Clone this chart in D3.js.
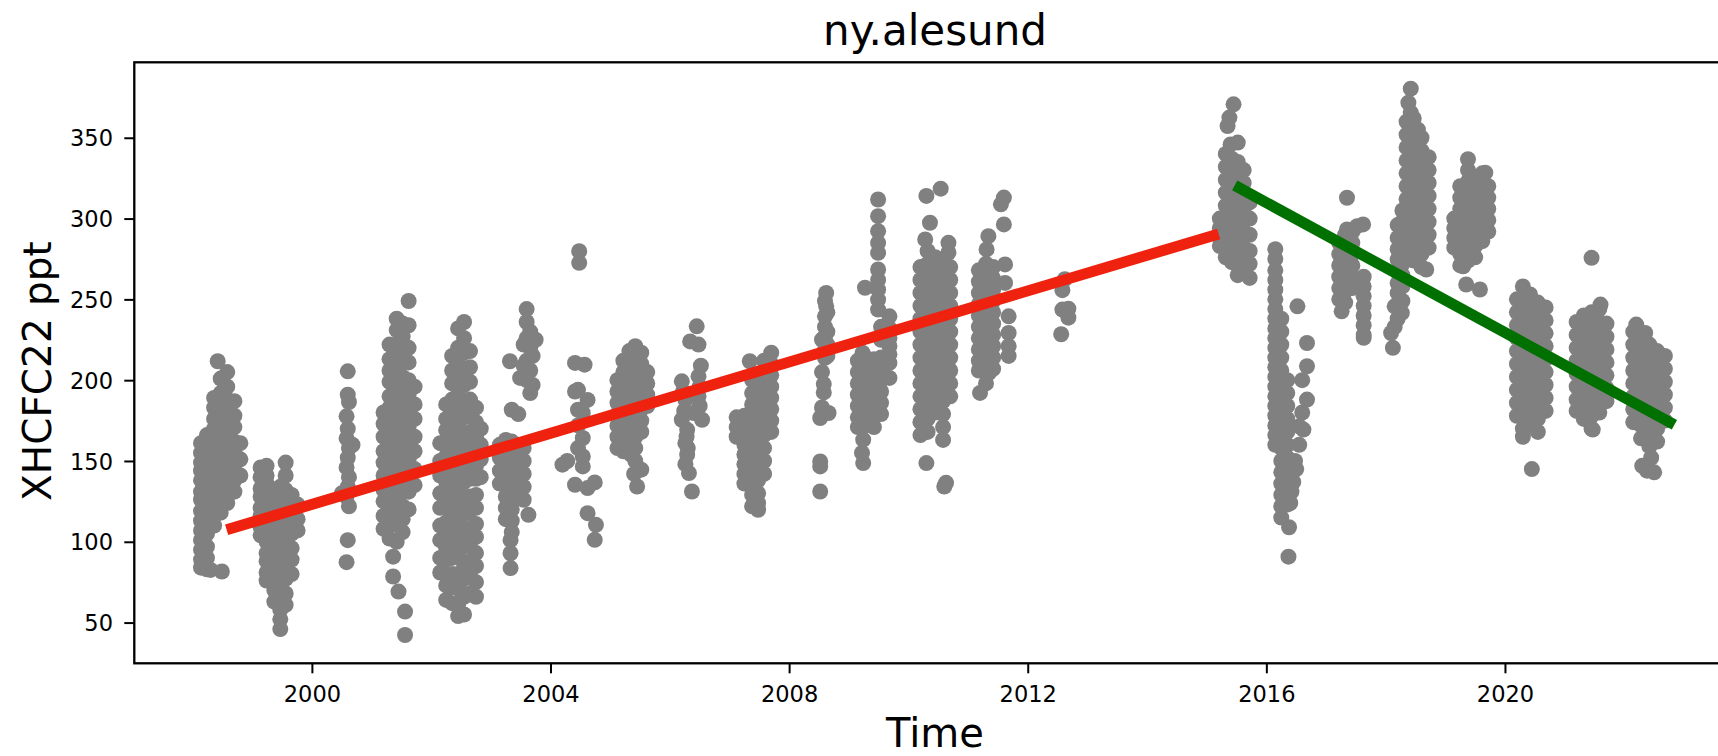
<!DOCTYPE html>
<html><head><meta charset="utf-8">
<script src="https://cdn.jsdelivr.net/npm/d3@7"></script>
<style>body{margin:0;background:#fff;} svg{display:block;font-family:"DejaVu Sans",sans-serif;}</style>
</head><body><svg id="chart" width="1718" height="756"></svg>
<script>
const chartTitle = "ny.alesund";
const xLabel = "Time";
const yLabel = "XHCFC22 ppt";
const xTickYears = [2000, 2004, 2008, 2012, 2016, 2020];
const yTickValues = [50, 100, 150, 200, 250, 300, 350];
const xDomainYears = [1997.021, 2023.868];
const yDomain = [24.8, 396.7];

// observation columns: [decimal year, [readings in ppt]]
const obsColumns = [
  [1998.14, [161, 155, 149, 144, 138, 131, 126, 119, 113, 107, 101, 95, 89, 84]],
  [1998.24, [166, 158, 151, 143, 136, 128, 121, 113, 105, 97, 90, 83]],
  [1998.36, [189, 183, 176, 170, 163, 158, 151, 146, 139, 134, 128, 121, 116, 110]],
  [1998.47, [201, 192, 186, 180, 173, 168, 161, 156, 150, 143, 138, 131, 126, 118]],
  [1998.58, [205, 196, 188, 181, 172, 165, 156, 149, 141, 133, 124]],
  [1998.70, [187, 178, 171, 162, 155, 147, 138, 131]],
  [1998.80, [161, 151, 141]],
  [1998.42, [211.7]],
  [1998.30, [82.6]],
  [1998.49, [81.6]],
  [1999.14, [146, 140, 133, 128, 121, 116, 109, 104]],
  [1999.24, [147, 141, 136, 129, 124, 117, 112, 105, 100, 93, 88, 81, 76]],
  [1999.37, [131, 123, 118, 111, 106, 99, 94, 87, 82, 75, 70, 63]],
  [1999.47, [134, 127, 120, 112, 105, 97, 89, 81, 73, 65, 58, 52, 46]],
  [1999.56, [149, 141, 132, 124, 117, 108, 100, 93, 84, 77, 68, 61]],
  [1999.66, [129, 121, 112, 105, 96, 89, 80]],
  [1999.76, [123, 114, 107]],
  [2000.60, [205.5, 191, 170, 152, 134, 101]],
  [2000.62, [186.5, 158, 140, 122]],
  [2000.58, [177.6, 164, 146, 128, 87.4]],
  [2000.68, [160]],
  [2000.50, [130]],
  [2001.20, [180, 173, 165, 156, 149, 141, 132, 125, 116, 108]],
  [2001.30, [222, 213, 206, 199, 190, 183, 174, 167, 158, 151, 142, 135, 126, 119, 110, 102]],
  [2001.42, [238, 231, 222, 215, 206, 199, 190, 183, 174, 167, 158, 150, 143, 134, 127, 118, 111, 100]],
  [2001.52, [235, 227, 218, 211, 202, 195, 186, 179, 170, 163, 154, 147, 138, 131, 122, 114, 106]],
  [2001.62, [249, 234, 220, 211, 200, 191, 180, 171, 160, 151, 140, 131, 120]],
  [2001.72, [196, 185, 176, 165, 156, 145, 135]],
  [2001.36, [90.8, 78.5]],
  [2001.45, [69.2]],
  [2001.56, [56.8, 42.3]],
  [2002.15, [161, 150, 141, 130, 121, 110, 101, 90, 81]],
  [2002.25, [185, 176, 169, 160, 153, 144, 137, 128, 121, 112, 105, 96, 89, 80, 73, 64]],
  [2002.35, [215, 206, 198, 188, 180, 170, 162, 152, 144, 134, 126, 116, 108, 98, 90, 80, 72, 62]],
  [2002.45, [232, 220, 211, 200, 191, 180, 171, 160, 151, 140, 131, 120, 111, 100, 91, 80, 71, 61, 54]],
  [2002.55, [236, 226, 217, 206, 197, 186, 177, 166, 157, 146, 137, 126, 117, 106, 97, 86, 77, 66, 55]],
  [2002.65, [218, 208, 199, 188, 179, 168, 159, 148, 139, 128, 119, 108, 99, 88, 79, 68]],
  [2002.75, [183, 174, 165, 157, 147, 139, 129, 121, 111, 103, 93, 85, 75, 66]],
  [2002.83, [170, 160, 151, 140]],
  [2003.60, [244, 236, 226, 212, 200]],
  [2003.66, [230, 220, 206, 192]],
  [2003.70, [215, 197]],
  [2003.55, [222, 209]],
  [2003.75, [225]],
  [2003.32, [211.7]],
  [2003.49, [201.4]],
  [2003.35, [181.7]],
  [2003.46, [179]],
  [2003.15, [160, 152, 144, 136]],
  [2003.25, [163, 156, 149, 142, 135, 128, 121, 114]],
  [2003.35, [162, 155, 148, 141, 134, 127, 120, 113, 106]],
  [2003.45, [160, 153, 146, 139, 132]],
  [2003.55, [158, 150, 142, 134, 126]],
  [2003.63, [116.7]],
  [2003.33, [101, 92.9, 83.7]],
  [2004.48, [279.8, 272.6]],
  [2004.41, [210.7, 193, 135.3]],
  [2004.57, [209.6]],
  [2004.46, [194, 181.7, 172, 158]],
  [2004.62, [187.8, 133.2, 117.7]],
  [2004.54, [179.7, 164.2, 152.8, 146.6]],
  [2004.20, [147.7]],
  [2004.28, [150]],
  [2004.74, [136.7, 101.2]],
  [2004.76, [110.5]],
  [2005.12, [200, 193, 186, 179, 172, 165, 158]],
  [2005.22, [212, 205, 198, 191, 184, 177, 170, 163, 156]],
  [2005.32, [218, 211, 204, 197, 190, 183, 176, 169, 162, 155]],
  [2005.42, [221, 214, 207, 200, 193, 186, 179, 172, 165, 158, 150]],
  [2005.52, [217, 210, 203, 196, 189, 182, 175, 168, 144.6]],
  [2005.62, [205, 198, 191, 184]],
  [2005.35, [153.9]],
  [2005.40, [142]],
  [2005.45, [134.2]],
  [2006.45, [233.3]],
  [2006.34, [224]],
  [2006.48, [222, 202.4, 190]],
  [2006.20, [199.3, 175.5]],
  [2006.22, [193]],
  [2006.24, [181]],
  [2006.26, [187.9, 161, 148]],
  [2006.40, [179.7]],
  [2006.54, [175.5]],
  [2006.29, [169.3, 153.9]],
  [2006.28, [165]],
  [2006.30, [158]],
  [2006.32, [142.5]],
  [2006.37, [131.1]],
  [2006.50, [196, 184]],
  [2006.52, [209]],
  [2007.12, [177, 171, 165]],
  [2007.25, [178, 172, 166, 160, 154, 148, 142, 136]],
  [2007.38, [200, 192, 185, 178, 171, 164, 157, 150, 143, 136, 129, 122]],
  [2007.48, [194, 186, 178, 170, 162, 154, 146, 138, 130, 124, 119.8]],
  [2007.58, [212, 205, 198, 190, 182, 174, 166, 158, 150, 142]],
  [2007.70, [217, 210, 203, 196, 189, 182, 175, 168]],
  [2007.34, [211.7]],
  [2008.62, [254, 245.7]],
  [2008.60, [249, 239.5, 233, 227, 219, 213.8]],
  [2008.64, [242, 230, 222, 215]],
  [2008.55, [225.1, 205, 183.1]],
  [2008.58, [197.6, 192.4]],
  [2008.66, [179.7]],
  [2008.52, [176.6, 149.7, 146.6, 131.1]],
  [2009.49, [311.8, 301.5, 292.2, 285, 278.8, 268.5, 262, 256, 249.9, 243.7]],
  [2009.27, [257.2]],
  [2009.68, [239.5, 232, 226, 221, 216, 210.7, 201.4]],
  [2009.23, [216.9, 208.6]],
  [2009.15, [212, 205, 198, 191, 184, 177, 171]],
  [2009.28, [214, 207, 200, 193, 186, 179, 172]],
  [2009.42, [213, 206, 199, 192, 185, 178, 171]],
  [2009.54, [233, 225, 214, 207, 200, 193, 186, 179]],
  [2009.24, [163.2, 148.7]],
  [2009.22, [155]],
  [2010.54, [318.5]],
  [2010.30, [314, 148.7]],
  [2010.36, [297.4]],
  [2010.28, [287.1]],
  [2010.67, [285, 279]],
  [2010.20, [270, 262, 254, 246, 238, 230, 222, 214, 206, 198, 190, 182, 174, 166]],
  [2010.32, [280, 272, 264, 256, 248, 240, 232, 224, 216, 208, 200, 192, 184, 176, 168]],
  [2010.45, [276, 268, 260, 252, 244, 236, 228, 220, 212, 204, 196, 188, 180]],
  [2010.58, [275, 267, 259, 251, 243, 235, 227, 219, 211, 203, 195, 187, 179, 171, 163]],
  [2010.70, [270, 262, 254, 246, 238, 230, 222, 214, 206, 198, 190]],
  [2010.60, [134.2]],
  [2010.63, [136.5]],
  [2011.60, [313, 296.4]],
  [2011.55, [308.8]],
  [2011.34, [289.1]],
  [2011.31, [280.9]],
  [2011.62, [271.6, 260.2]],
  [2011.18, [268, 261, 254, 247, 240, 233, 226, 219, 212, 206]],
  [2011.30, [272, 265, 258, 251, 244, 237, 230, 223, 216, 209, 198]],
  [2011.42, [270, 263, 256, 249, 242, 235, 228, 221, 214, 207]],
  [2011.68, [239.5, 229.2, 221, 215]],
  [2011.20, [192.1]],
  [2011.35, [204.5]],
  [2012.62, [262.5]],
  [2012.58, [255.7, 243.7]],
  [2012.68, [244.2, 238.7]],
  [2012.56, [228.4]],
  [2015.45, [370.7]],
  [2015.38, [362.5]],
  [2015.35, [357.3]],
  [2015.52, [347]],
  [2015.40, [345.9]],
  [2015.22, [300, 294, 288, 283]],
  [2015.32, [340, 332, 324, 316, 308, 300, 292, 284, 276]],
  [2015.42, [337, 329, 321, 313, 305, 297, 289, 281, 273]],
  [2015.52, [335, 327, 319, 311, 303, 295, 287, 279, 271, 265]],
  [2015.62, [330, 322, 314, 306, 298, 290, 282, 274, 268]],
  [2015.72, [310, 300, 290, 280, 272, 263.3]],
  [2016.15, [281, 275, 268, 262, 256, 250, 244, 238, 232, 226, 220, 214, 208, 202, 196, 190, 184, 178, 172, 166, 160]],
  [2016.25, [238, 230, 222, 214, 206, 198, 190, 182, 174, 166, 158, 150, 143, 136, 129, 122, 115]],
  [2016.35, [200, 192, 184, 176, 168, 160, 152, 144, 137, 130, 123]],
  [2016.52, [245.7]],
  [2016.68, [223, 208.6, 188]],
  [2016.60, [200, 180]],
  [2016.62, [169.4]],
  [2016.55, [171.4, 160]],
  [2016.48, [150]],
  [2016.50, [145]],
  [2016.45, [137]],
  [2016.42, [131]],
  [2016.40, [124]],
  [2016.38, [109]],
  [2016.37, [90.8]],
  [2017.35, [312.9, 293.3]],
  [2017.62, [296.4]],
  [2017.52, [295.3]],
  [2017.22, [285, 278, 271, 264, 257, 250]],
  [2017.32, [290, 283, 276, 269, 262, 255, 248]],
  [2017.44, [292, 285, 278, 271, 264, 257]],
  [2017.26, [242.6]],
  [2017.63, [264, 258, 252, 246, 240, 234, 228, 226.2]],
  [2018.42, [380.4, 365.5]],
  [2018.38, [371.7]],
  [2018.54, [355]],
  [2018.35, [360, 352, 344, 336, 328, 320, 312, 304, 296, 288, 280]],
  [2018.47, [362, 354, 346, 338, 330, 322, 314, 306, 298, 290, 282, 274]],
  [2018.60, [350, 342, 334, 326, 318, 310, 302, 294, 286, 278, 270]],
  [2018.72, [338, 330, 322, 314, 306, 298, 290, 282]],
  [2018.68, [268.5]],
  [2018.28, [305, 298, 291, 286, 279, 272, 265, 258, 249]],
  [2018.20, [296, 288, 281, 274.7, 267, 260, 254, 247, 238]],
  [2018.15, [245.7, 233]],
  [2018.09, [229.2]],
  [2018.12, [220]],
  [2018.27, [241.6]],
  [2019.38, [336.7]],
  [2019.67, [328.4]],
  [2019.15, [300, 294, 288, 282]],
  [2019.25, [320, 313, 306, 299, 292, 285, 278, 271]],
  [2019.38, [330, 323, 316, 309, 302, 295, 288, 281, 274]],
  [2019.50, [325, 318, 311, 304, 297, 290, 283, 276]],
  [2019.62, [328, 321, 314, 307, 300, 293, 286]],
  [2019.72, [320, 313, 306, 299, 292]],
  [2019.30, [270.5]],
  [2019.35, [259.2]],
  [2019.58, [256.1]],
  [2020.20, [250, 242, 234, 226, 218, 210, 202, 194, 186, 178]],
  [2020.30, [258, 250, 242, 234, 226, 218, 210, 202, 194, 186, 178, 170, 165]],
  [2020.42, [253, 245, 237, 229, 221, 213, 205, 197, 189, 181, 173]],
  [2020.55, [248, 240, 232, 224, 216, 208, 200, 192, 184, 176, 168]],
  [2020.68, [245, 237, 229, 221, 213, 205, 197, 189, 181]],
  [2020.45, [145]],
  [2021.45, [275.7]],
  [2021.60, [246.8]],
  [2021.20, [236, 228, 220, 212, 204, 196, 188, 181]],
  [2021.32, [240, 232, 224, 216, 208, 200, 192, 184, 176]],
  [2021.45, [242, 234, 226, 218, 210, 202, 194, 186, 178, 170]],
  [2021.58, [244, 236, 228, 220, 212, 204, 196, 188, 180]],
  [2021.70, [235, 227, 219, 211, 203, 195, 187]],
  [2021.47, [169.4]],
  [2022.20, [234.4]],
  [2022.35, [229.2]],
  [2022.15, [230, 222, 214, 206, 198, 190, 182, 174]],
  [2022.28, [228, 220, 212, 204, 196, 188, 180, 172, 164]],
  [2022.42, [222, 214, 206, 198, 190, 182, 174, 166, 159]],
  [2022.55, [218, 210, 202, 194, 186, 178, 170, 162]],
  [2022.68, [215, 207, 199, 191, 183, 175]],
  [2022.30, [147]],
  [2022.38, [144]],
  [2022.50, [143]],
  [2022.45, [152]]
];

// fitted trends: [decimal year, ppt]
const trendBefore = [[1998.57, 107.4], [2015.20, 290.5]];
const trendAfter = [[2015.47, 320.5], [2022.84, 172.4]];

function decYear(v) {
  const yr = Math.floor(v);
  const s = Date.UTC(yr, 0, 1), e = Date.UTC(yr + 1, 0, 1);
  return new Date(s + (v - yr) * (e - s));
}

const L = 134.3, R = 1735.7, T = 62.3, B = 663.3;
const svg = d3.select("#chart");
const x = d3.scaleUtc().domain(xDomainYears.map(decYear)).range([L, R]);
const y = d3.scaleLinear().domain(yDomain).range([B, T]);

const points = obsColumns.flatMap(([t, vals]) => vals.map(v => ({t, v})));

svg.append("g").selectAll("circle").data(points).join("circle")
  .attr("cx", d => x(decYear(d.t)))
  .attr("cy", d => y(d.v))
  .attr("r", 8)
  .attr("fill", "#808080");

const line = d3.line().x(d => x(decYear(d[0]))).y(d => y(d[1]));
svg.append("path").datum(trendBefore).attr("d", line)
  .attr("stroke", "#ee220f").attr("stroke-width", 11).attr("fill", "none");
svg.append("path").datum(trendAfter).attr("d", line)
  .attr("stroke", "#007000").attr("stroke-width", 11).attr("fill", "none");

// frame
svg.append("rect").attr("x", L).attr("y", T).attr("width", R - L).attr("height", B - T)
  .attr("fill", "none").attr("stroke", "#000").attr("stroke-width", 2.3);

const xAxis = d3.axisBottom(x)
  .tickValues(xTickYears.map(yy => new Date(Date.UTC(yy, 0, 1))))
  .tickFormat(d3.utcFormat("%Y")).tickSize(10);
const gx = svg.append("g").attr("transform", `translate(0,${B})`).call(xAxis);
gx.select(".domain").remove();
gx.selectAll("line").attr("stroke-width", 2);
gx.selectAll("text").attr("y", 38.4).attr("dy", null)
  .attr("font-size", 22.5).attr("font-family", "DejaVu Sans").attr("fill", "#000");

const yAxis = d3.axisLeft(y).tickValues(yTickValues).tickSize(10);
const gy = svg.append("g").attr("transform", `translate(${L},0)`).call(yAxis);
gy.select(".domain").remove();
gy.selectAll("line").attr("stroke-width", 2);
gy.selectAll("text").attr("x", -21.3).attr("dy", "0.36em")
  .attr("font-size", 22.5).attr("font-family", "DejaVu Sans").attr("fill", "#000");

svg.append("text").attr("x", 935).attr("y", 45).attr("text-anchor", "middle")
  .attr("font-size", 42).text(chartTitle);
svg.append("text").attr("x", 935).attr("y", 746.7).attr("text-anchor", "middle")
  .attr("font-size", 40).text(xLabel);
svg.append("text").attr("transform", "translate(50.5,371) rotate(-90)")
  .attr("text-anchor", "middle").attr("font-size", 39).text(yLabel);
</script></body></html>
